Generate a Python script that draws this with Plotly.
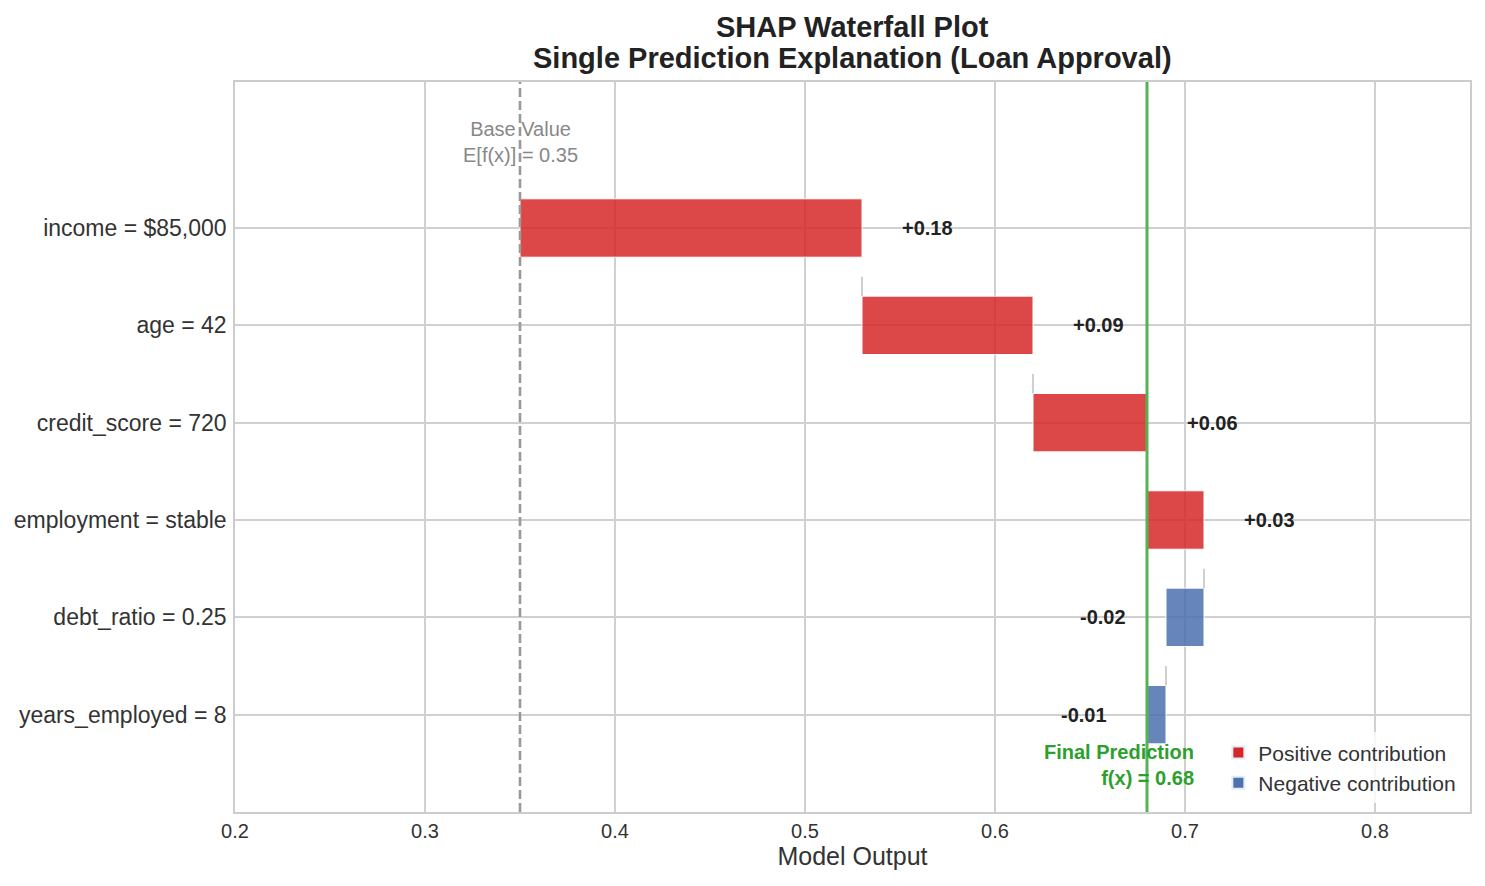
import plotly.graph_objects as go

features = ["income = $85,000", "age = 42", "credit_score = 720",
            "employment = stable", "debt_ratio = 0.25", "years_employed = 8"]
shap_values = [0.18, 0.09, 0.06, 0.03, -0.02, -0.01]
base_value = 0.35
x_ticks = [0.2, 0.3, 0.4, 0.5, 0.6, 0.7, 0.8]
title_lines = ["SHAP Waterfall Plot", "Single Prediction Explanation (Loan Approval)"]

POS = "#d62728"
NEG = "#4c72b0"
FONT = "Liberation Sans, Arial, sans-serif"

starts = []
cum = base_value
for v in shap_values:
    starts.append(cum)
    cum += v
final_value = round(cum, 4)

ypos = list(range(len(features)))
fig = go.Figure()

for sign, color in [(1, POS), (-1, NEG)]:
    idx = [i for i, v in enumerate(shap_values) if (v > 0) == (sign > 0)]
    fig.add_trace(go.Bar(
        orientation="h",
        y=[ypos[i] for i in idx],
        x=[abs(shap_values[i]) for i in idx],
        base=[min(starts[i], starts[i] + shap_values[i]) for i in idx],
        width=0.6,
        marker=dict(color=color, opacity=0.85, line=dict(color="white", width=1)),
        showlegend=False, hoverinfo="skip",
    ))

# legend entries
fig.add_trace(go.Bar(x=[None], y=[None], orientation="h", marker_color=POS, name="Positive contribution"))
fig.add_trace(go.Bar(x=[None], y=[None], orientation="h", marker_color=NEG, name="Negative contribution"))

# connectors
for i in range(1, len(features)):
    fig.add_shape(type="line", x0=starts[i], x1=starts[i], y0=i - 0.5, y1=i - 0.3,
                  line=dict(color="#b0b0b0", width=1.2), layer="above")

# value labels
for i, v in enumerate(shap_values):
    end = starts[i] + v
    if v > 0:
        fig.add_annotation(x=end + 0.02, y=i, text=f"<b>+{v:.2f}</b>", showarrow=False,
                           xanchor="left", yanchor="middle", font=dict(size=20, color="#222"))
    else:
        fig.add_annotation(x=min(starts[i], end) - 0.02, y=i, text=f"<b>{v:.2f}</b>", showarrow=False,
                           xanchor="right", yanchor="middle", font=dict(size=20, color="#222"))

# base line
fig.add_shape(type="line", x0=base_value, x1=base_value, y0=0, y1=1, yref="paper",
              line=dict(color="#999999", width=2.6, dash="9px,4px"), layer="above")
fig.add_annotation(x=base_value, y=-0.88, text=f"Base Value<br>E[f(x)] = {base_value:.2f}",
                   showarrow=False, xanchor="center", yanchor="middle",
                   font=dict(size=20, color="#888888"))

# final line
fig.add_shape(type="line", x0=final_value, x1=final_value, y0=0, y1=1, yref="paper",
              line=dict(color="#55b355", width=3), layer="above")
fig.add_annotation(x=final_value + 0.026, y=5.52, text=f"<b>Final Prediction<br>f(x) = {final_value:.2f}</b>",
                   showarrow=False, xanchor="right", yanchor="middle", align="right",
                   font=dict(size=20, color="#2ca02c"))

# title (two lines)
for t, yy in zip(title_lines, [1.0755, 1.033]):
    fig.add_annotation(x=0.5, y=yy, xref="paper", yref="paper", text=f"<b>{t}</b>",
                       showarrow=False, xanchor="center", yanchor="middle",
                       font=dict(size=29, color="#222"))

fig.update_layout(
    width=1485, height=886,
    margin=dict(l=235, r=15, t=82, b=74),
    paper_bgcolor="white", plot_bgcolor="white",
    font=dict(family=FONT, color="#333"),
    barmode="overlay",
    xaxis=dict(range=[0.2, 0.85], tickvals=x_ticks, ticktext=[f"{t:.1f}" for t in x_ticks],
               showgrid=True, gridcolor="#d0d0d0", gridwidth=1.5, zeroline=False,
               showline=True, linecolor="#cccccc", linewidth=1.5, mirror=True,
               tickfont=dict(size=20, color="#333"), ticks="",
               title=dict(text="Model Output", font=dict(size=25, color="#333"), standoff=6)),
    yaxis=dict(range=[6, -1.5], tickvals=ypos, ticktext=features,
               showgrid=True, gridcolor="#d0d0d0", gridwidth=1.5, zeroline=False,
               showline=True, linecolor="#cccccc", linewidth=1.5, mirror=True,
               tickfont=dict(size=23, color="#333"), ticks="", ticklabelstandoff=2),
    legend=dict(x=0.993, y=0.012, xanchor="right", yanchor="bottom",
                bgcolor="rgba(255,255,255,0.8)", font=dict(size=21, color="#333"),
                itemsizing="constant", tracegroupgap=0),
)

fig.write_html("out.html")
